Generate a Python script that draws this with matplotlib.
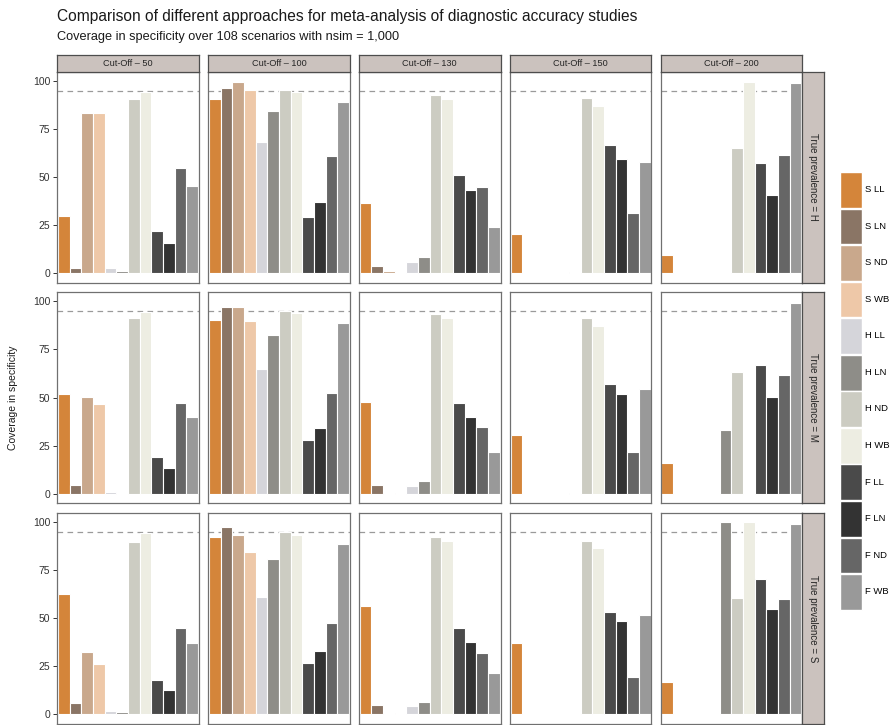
import numpy as np
import matplotlib
matplotlib.use("Agg")
import matplotlib.pyplot as plt
from matplotlib.patches import Patch

plt.rcParams['font.family'] = ['Liberation Sans', 'DejaVu Sans']

# ---- data -------------------------------------------------------------
methods = ["S LL", "S LN", "S ND", "S WB", "H LL", "H LN", "H ND", "H WB",
           "F LL", "F LN", "F ND", "F WB"]
colors = ["#D4853A", "#8A7565", "#C9A88C", "#EEC8A8", "#D5D5DA", "#8E8D88",
          "#CCCCC2", "#EDEDE2", "#4A4A4A", "#333333", "#666666", "#999999"]
cutoffs = ["50", "100", "130", "150", "200"]
prevalences = ["H", "M", "S"]
nan = np.nan

# coverage (%) per cut-off, one list per prevalence level
coverage_H = [
    [29.8, 2.6, 83.3, 83.3, 2.6, 1.0, 90.5, 94.0, 21.9, 15.7, 54.7, 45.5],
    [90.5, 96.4, 99.5, 95.3, 68.1, 84.3, 95.2, 94.0, 29.3, 37.0, 60.9, 89.1],
    [36.7, 3.8, 1.2, nan, 5.7, 8.3, 92.9, 90.5, 51.2, 43.1, 44.7, 24.1],
    [20.5, nan, nan, nan, nan, 0.7, 91.2, 86.7, 66.7, 59.5, 31.4, 57.8],
    [9.5, nan, nan, nan, nan, nan, 65.2, 99.7, 57.4, 40.5, 61.2, 99.1],
]
coverage_M = [
    [51.9, 4.7, 50.3, 46.4, 1.0, 0.5, 91.3, 94.6, 19.2, 13.3, 47.4, 40.0],
    [90.3, 97.2, 97.2, 89.6, 64.7, 82.7, 94.8, 94.0, 27.7, 34.3, 52.2, 88.9],
    [47.8, 4.7, 0.3, nan, 4.2, 6.7, 93.3, 91.3, 47.2, 39.6, 34.9, 21.6],
    [30.3, nan, nan, nan, nan, 0.3, 91.5, 87.0, 57.1, 51.9, 21.6, 54.2],
    [15.7, nan, nan, nan, nan, 33.0, 63.1, nan, 67.0, 50.3, 61.8, 99.3],
]
coverage_S = [
    [62.5, 5.9, 32.1, 25.9, 1.4, 1.0, 89.8, 94.3, 17.6, 12.3, 44.7, 36.8],
    [92.4, 97.4, 93.3, 84.3, 60.8, 80.5, 94.8, 93.1, 26.8, 32.6, 47.2, 88.6],
    [56.5, 4.7, 0.7, nan, 4.3, 6.2, 92.4, 90.3, 44.7, 37.5, 32.0, 21.2],
    [36.8, nan, nan, nan, nan, 0.3, 90.0, 86.4, 53.2, 48.5, 19.5, 51.8],
    [16.6, nan, nan, nan, nan, 99.8, 60.6, 99.8, 70.1, 54.6, 60.1, 98.8],
]
coverage = {"H": coverage_H, "M": coverage_M, "S": coverage_S}
target = 95
y_ticks = [0, 25, 50, 75, 100]

# ---- layout (pixel geometry of the facet grid) -------------------------
W, H = 891, 725
fig = plt.figure(figsize=(W / 100, H / 100), dpi=100)


def frac(x, y, w, h):
    return [x / W, 1 - (y + h) / H, w / W, h / H]


col_left, col_step, panel_w = 57.3, 150.85, 141.5
row_top, row_step, panel_h = 71.7, 220.5, 211.0
strip_fill, strip_edge = "#CBC2BE", "#4D4D4D"

x = np.arange(len(methods))
for r, prev in enumerate(prevalences):
    for c, cut in enumerate(cutoffs):
        left = col_left + c * col_step
        top = row_top + r * row_step
        ax = fig.add_axes(frac(left, top, panel_w, panel_h))
        vals = np.array(coverage[prev][c], dtype=float)
        ax.bar(x, np.nan_to_num(vals), width=1.0, color=colors,
               edgecolor="white", linewidth=0.8)
        ax.axhline(target, color="#9A9A9A", linestyle=(0, (4.5, 3.5)),
                   linewidth=0.9, zorder=0)
        ax.set_xlim(-0.56, 11.56)
        ax.set_ylim(-5, 104.8)
        ax.set_xticks([])
        ax.set_yticks(y_ticks)
        for s in ax.spines.values():
            s.set_color("#707070")
            s.set_linewidth(0.9)
        if c == 0:
            ax.tick_params(axis="y", length=3, width=0.7, color="#333333",
                           labelsize=7.5, labelcolor="#333333", pad=2)
        else:
            ax.tick_params(axis="y", length=0, labelleft=False)

        # top strip with cut-off label
        if r == 0:
            sax = fig.add_axes(frac(left, 55.0, panel_w, 16.7))
            sax.set_xticks([]); sax.set_yticks([])
            sax.set_facecolor(strip_fill)
            for s in sax.spines.values():
                s.set_color(strip_edge); s.set_linewidth(0.9)
            sax.text(0.5, 0.5, f"Cut-Off \u2013 {cut}", ha="center",
                     va="center", fontsize=6.6, color="#262626",
                     transform=sax.transAxes)
        # right strip with prevalence label
        if c == len(cutoffs) - 1:
            rax = fig.add_axes(frac(left + panel_w, top, 22.0, panel_h))
            rax.set_xticks([]); rax.set_yticks([])
            rax.set_facecolor(strip_fill)
            for s in rax.spines.values():
                s.set_color(strip_edge); s.set_linewidth(0.9)
            rax.text(0.5, 0.5, f"True prevalence = {prev}", ha="center",
                     va="center", rotation=-90, fontsize=7, color="#262626",
                     transform=rax.transAxes)

# titles and axis label
fig.text(57 / W, 1 - 17 / H, "Comparison of different approaches for "
         "meta-analysis of diagnostic accuracy studies",
         fontsize=11.2, color="#1A1A1A", va="center", ha="left")
fig.text(57 / W, 1 - 37 / H,
         "Coverage in specificity over 108 scenarios with nsim = 1,000",
         fontsize=9.2, color="#1A1A1A", va="center", ha="left")
fig.text(13 / W, 1 - 398 / H, "Coverage in specificity", rotation=90,
         fontsize=7.5, color="#1A1A1A", va="center", ha="center")

# legend: 12 stacked keys, labels kept inside the figure edge
handles = [Patch(facecolor=col, edgecolor="white", linewidth=1.0)
           for col in colors]
fig.legend(handles, methods, loc="upper left",
           bbox_to_anchor=(840 / W, 1 - 172 / H), frameon=False,
           fontsize=6.8, handlelength=2.32, handleheight=5.44,
           labelspacing=0.09, handletextpad=0.3, borderaxespad=0,
           borderpad=0)

fig.savefig("out.png", dpi=100)
